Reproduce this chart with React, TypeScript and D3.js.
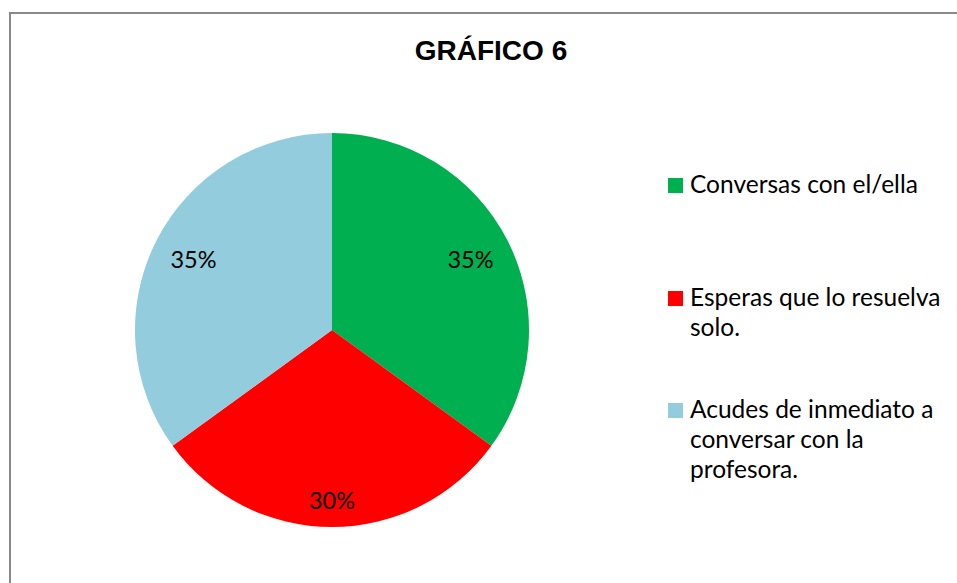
import React from "react";
import * as d3 from "d3";

const categories = [
  "Conversas con el/ella",
  "Esperas que lo resuelva solo.",
  "Acudes de inmediato a conversar con la profesora.",
];
const legendLines = [
  ["Conversas con el/ella"],
  ["Esperas que lo resuelva", "solo."],
  ["Acudes de inmediato a", "conversar con la", "profesora."],
];
const values = [35, 30, 35];
const labels = ["35%", "30%", "35%"];
const colors = ["#00B050", "#FF0000", "#93CDDD"];
const title = "GRÁFICO 6";

const W = 957;
const H = 583;
const cx = 332;
const cy = 330;
const R = 197;
const bodyFont = "Lato, 'Open Sans', sans-serif";

function labelPos(angle: number) {
  const ux = Math.sin(angle);
  const uy = -Math.cos(angle);
  const w = 23;
  const h = 9;
  const target = 180;
  let lo = 0;
  let hi = R;
  for (let i = 0; i < 40; i++) {
    const d = (lo + hi) / 2;
    const px = d * ux + w * Math.sign(Math.round(ux * 1000));
    const py = d * uy + h * Math.sign(Math.round(uy * 1000));
    const dist = Math.hypot(px, py);
    if (dist > target) hi = d;
    else lo = d;
  }
  const d = (lo + hi) / 2;
  return [d * ux, d * uy];
}

export default function App() {
  const pie = d3.pie<number>().sort(null).value((d) => d);
  const arcs = pie(values);
  const arc = d3.arc<d3.PieArcDatum<number>>().innerRadius(0).outerRadius(R);

  const legendX = 668;
  const legendBaselines = [193, 306, 418];
  const lineH = 30;

  return (
    <svg
      width={W}
      height={H}
      style={{ position: "absolute", left: 0, top: 0, background: "#fff" }}
    >
      <rect x={0} y={0} width={W} height={H} fill="#fff" />
      <rect
        x={10}
        y={13}
        width={W + 20}
        height={H + 20}
        fill="none"
        stroke="#898989"
        strokeWidth={2}
      />
      <text
        x={491}
        y={60}
        textAnchor="middle"
        fontFamily="'Liberation Sans', Arial, sans-serif"
        fontWeight="bold"
        fontSize={28}
        fill="#000"
      >
        {title}
      </text>
      <g transform={`translate(${cx},${cy})`}>
        {arcs.map((a, i) => (
          <path key={categories[i]} d={arc(a) || ""} fill={colors[i]} />
        ))}
        {arcs.map((a, i) => {
          const mid = (a.startAngle + a.endAngle) / 2;
          const [x, y] = labelPos(mid);
          return (
            <text
              key={"l" + i}
              x={x}
              y={y}
              dy="0.35em"
              textAnchor="middle"
              fontFamily={bodyFont}
              fontSize={23.5}
              fill="#000"
            >
              {labels[i]}
            </text>
          );
        })}
      </g>
      {legendLines.map((lines, i) => (
        <g key={"lg" + i}>
          <rect
            x={legendX}
            y={legendBaselines[i] - 15}
            width={15}
            height={15}
            fill={colors[i]}
          />
          <text
            fontFamily={bodyFont}
            fontSize={24.5}
            fill="#000"
          >
            {lines.map((ln, j) => (
              <tspan key={j} x={legendX + 22} y={legendBaselines[i] + j * lineH}>
                {ln}
              </tspan>
            ))}
          </text>
        </g>
      ))}
    </svg>
  );
}
